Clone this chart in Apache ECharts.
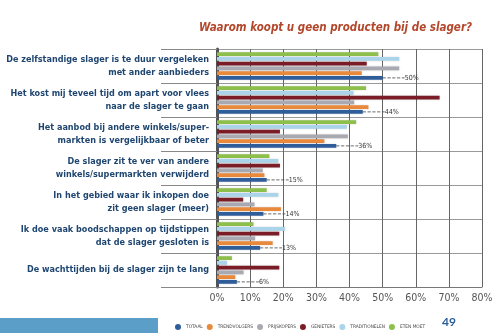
<!DOCTYPE html>
<html>
<head>
<meta charset="utf-8">
<script src="https://cdn.jsdelivr.net/npm/echarts@6/dist/echarts.min.js"></script>
<style>html,body{margin:0;padding:0;background:#fff}#c{width:500px;height:333px}</style>
</head>
<body>
<div id="c"></div>
<script>
const categories = [
  'De zelfstandige slager is te duur vergeleken\nmet ander aanbieders',
  'Het kost mij teveel tijd om apart voor vlees\nnaar de slager te gaan',
  'Het aanbod bij andere winkels/super-\nmarkten is vergelijkbaar of beter',
  'De slager zit te ver van andere\nwinkels/supermarkten verwijderd',
  'In het gebied waar ik inkopen doe\nzit geen slager (meer)',
  'Ik doe vaak boodschappen op tijdstippen\ndat de slager gesloten is',
  'De wachttijden bij de slager zijn te lang'
];
const seriesNames = ['TOTAAL', 'TRENDVOLGERS', 'PRIJSKOPERS', 'GENIETERS', 'TRADITIONELEN', 'ETEN MOET'];
const totaal        = [50, 44, 36, 15, 14, 13, 6];
const trendvolgers  = [43.7, 45.7, 32.4, 14.3, 19.3, 16.8, 5.5];
const prijskopers   = [55, 41.4, 39.5, 13.8, 11.3, 11.5, 8];
const genieters     = [45.2, 67.2, 19, 19, 7.9, 18.8, 18.8];
const traditionelen = [55, 41.2, 39.2, 18.5, 18.5, 20.5, 3];
const etenMoet      = [48.7, 45, 42, 15.8, 15, 11, 4.5];
const xTicks = [0, 10, 20, 30, 40, 50, 60, 70, 80];

const values = [totaal, trendvolgers, prijskopers, genieters, traditionelen, etenMoet];
const colors = ['#2e5d9a', '#e8893b', '#a9a9b1', '#7b1d26', '#a9d4ea', '#8dc04b'];
const condensed = "'DejaVu Sans Condensed',Lato,sans-serif";

const series = seriesNames.map((name, i) => {
  const s = {
    name: name,
    type: 'bar',
    data: values[i],
    barWidth: 3.8,
    barGap: '25%',
    itemStyle: { color: colors[i], shadowBlur: 2, shadowColor: 'rgba(0,0,0,0.18)' }
  };
  if (i === 0) {
    s.label = {
      show: true, position: 'right', distance: 2,
      formatter: '{c}%', fontSize: 7, color: '#333', fontFamily: condensed
    };
    s.labelLayout = { dx: 20 };
    s.labelLine = { show: true, lineStyle: { type: 'dashed', color: '#444', width: 0.8 } };
  }
  return s;
});
// reverse so TOTAAL sits at the bottom of each group
series.reverse();

const chart = echarts.init(document.getElementById('c'), null, { renderer: 'canvas' });
chart.setOption({
  animation: false,
  backgroundColor: '#fff',
  color: colors,
  title: {
    text: 'Waarom koopt u geen producten bij de slager?',
    left: 194, top: 17,
    textStyle: { color: '#b3472b', fontSize: 11.5, fontWeight: 'bold', fontStyle: 'italic', fontFamily: condensed }
  },
  legend: {
    data: seriesNames,
    left: 170, top: 319,
    icon: 'circle', itemWidth: 6, itemHeight: 6, itemGap: 4,
    textStyle: { fontSize: 4.8, color: '#444', fontFamily: condensed }
  },
  grid: { left: 217, right: 18, top: 49, bottom: 46, containLabel: false, outerBoundsMode: 'none' },
  xAxis: {
    type: 'value', min: xTicks[0], max: xTicks[xTicks.length - 1], interval: 10,
    axisLine: { show: true, lineStyle: { color: '#777', width: 1 } },
    axisTick: { show: false },
    axisLabel: { formatter: '{value}%', fontSize: 10.5, color: '#555', margin: 6, fontFamily: condensed },
    splitLine: { show: true, lineStyle: { color: '#666', width: 1 } }
  },
  yAxis: {
    type: 'category', data: categories, inverse: true,
    axisLine: { show: true, lineStyle: { color: '#555', width: 3 } },
    axisTick: { show: true, length: 56, interval: 0, lineStyle: { color: '#888', width: 1 } },
    axisLabel: {
      fontSize: 9, fontWeight: 'bold', color: '#1f4670', margin: 8,
      lineHeight: 13, align: 'right', fontFamily: condensed, interval: 0
    },
    splitLine: { show: true, lineStyle: { color: '#999', width: 1 } }
  },
  series: series,
  graphic: [
    { type: 'rect', left: 0, top: 318, shape: { width: 158, height: 15 }, style: { fill: '#5b9fc8' }, silent: true },
    { type: 'text', left: 442, top: 316, style: { text: '49', fill: '#2b5c9c', fontSize: 12, fontWeight: 'bold', fontFamily: 'Lato,sans-serif' } }
  ]
});
</script>
</body>
</html>
